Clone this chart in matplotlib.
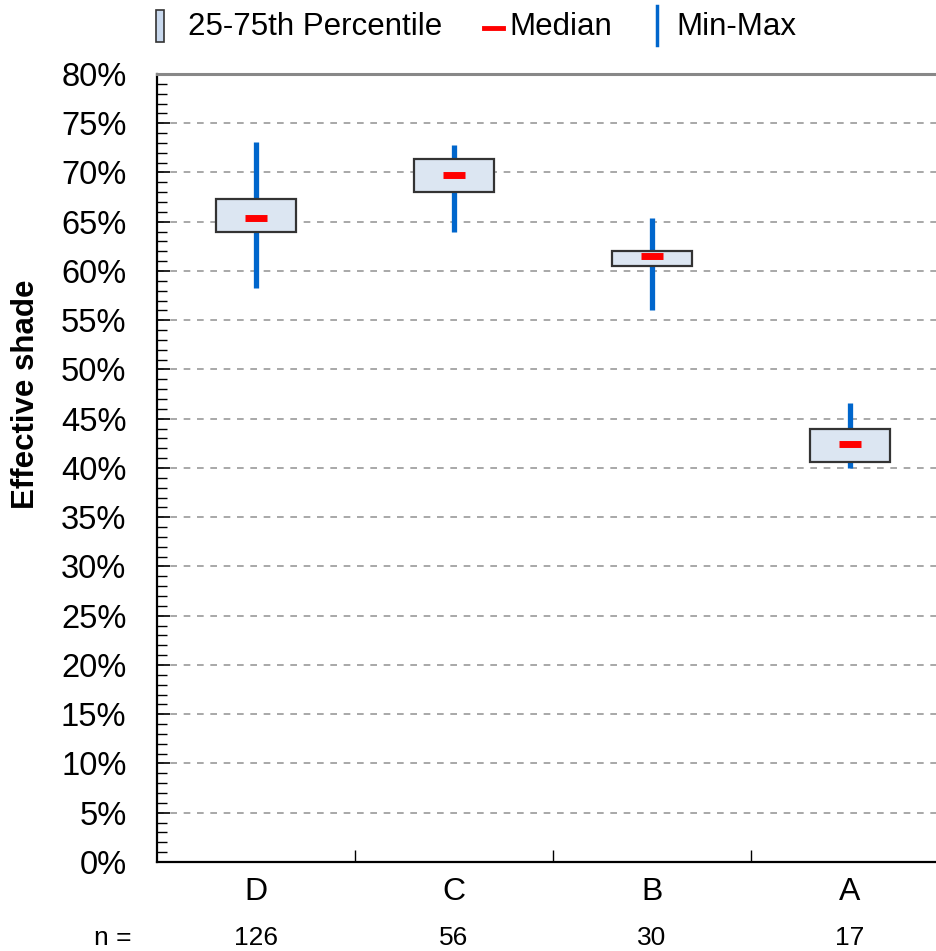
import numpy as np
import matplotlib.pyplot as plt
from matplotlib.patches import Rectangle
from matplotlib.lines import Line2D
from matplotlib.ticker import MultipleLocator, FuncFormatter
from matplotlib.transforms import blended_transform_factory

plt.rcParams['font.family'] = ['Liberation Sans', 'DejaVu Sans']

# Effective shade summary per class (fractions in %)
categories = ["D", "C", "B", "A"]
counts = [126, 56, 30, 17]
q_min = [58.3, 64.0, 56.0, 40.0]
q_max = [73.1, 72.8, 65.35, 46.6]
q25 = [64.0, 68.05, 60.5, 40.6]
q75 = [67.3, 71.4, 62.05, 44.0]
medians = [65.35, 69.75, 61.55, 42.4]

fig = plt.figure(figsize=(9.37, 9.51), dpi=100)
ax = fig.add_axes([0.1676, 0.0936, 0.8324, 0.8286])

x = np.arange(len(categories))
heights = np.array(q75) - np.array(q25)

# whiskers behind the boxes
ax.vlines(x, q_min, q_max, color="#0066cc", lw=3.8, zorder=2)
ax.bar(x, heights, bottom=q25, width=0.4, color="#dce6f2",
       edgecolor="#333333", linewidth=1.6, zorder=3)
ax.hlines(medians, x - 0.055, x + 0.055, color="#ff0000", lw=5, zorder=4)

ax.set_xlim(-0.5, -0.5 + 780 / 198)
ax.set_ylim(0, 80)
ax.yaxis.set_major_locator(MultipleLocator(5))
ax.yaxis.set_minor_locator(MultipleLocator(1))
ax.yaxis.set_major_formatter(FuncFormatter(lambda v, p: f"{v:.0f}%"))
ax.tick_params(axis="y", which="both", direction="in", labelsize=23.5, pad=22)
ax.tick_params(axis="y", which="major", length=9, width=1.2)
ax.tick_params(axis="y", which="minor", length=7, width=1.0)

ax.set_xticks(x)
ax.set_xticklabels(categories)
ax.set_xticks(x[:-1] + 0.5, minor=True)
ax.tick_params(axis="x", which="major", length=0, labelsize=23, pad=11)
ax.tick_params(axis="x", which="minor", direction="in", length=9, width=1.0)

ax.yaxis.grid(True, which="major", linestyle=(0, (4, 4)), color="#999999", lw=1.2)
ax.set_axisbelow(True)

for side in ("left", "bottom"):
    ax.spines[side].set_linewidth(1.6)
ax.spines["right"].set_visible(False)
ax.spines["top"].set_color("#888888")
ax.spines["top"].set_linewidth(2.2)

ax.set_ylabel("Effective shade", fontsize=22.5, fontweight="bold")
ax.yaxis.set_label_coords(-0.149, 0.593)

# sample size row under the categories
trans = blended_transform_factory(ax.transData, ax.transAxes)
ax.text(-0.5 - 44 / 198, -0.096, "n =", transform=trans, ha="center",
        va="center", fontsize=19)
for xi, n in zip(x, counts):
    ax.text(xi, -0.096, str(n), transform=trans, ha="center", va="center",
            fontsize=19)

# legend row at the top
W, H = 937, 951
fig.patches.append(Rectangle((156 / W, 1 - 42 / H), 8 / W, 32 / H,
                             transform=fig.transFigure, facecolor="#c9d9ee",
                             edgecolor="#333333", lw=1.2))
fig.text(188 / W, 1 - 27 / H, "25-75th Percentile", fontsize=22.5, va="center")
fig.lines.append(Line2D([484 / W, 503 / W], [1 - 28 / H, 1 - 28 / H],
                        transform=fig.transFigure, color="#ff0000", lw=3.5))
fig.text(509 / W, 1 - 27 / H, "Median", fontsize=22.5, va="center")
fig.lines.append(Line2D([657 / W, 657 / W], [1 - 6 / H, 1 - 45 / H],
                        transform=fig.transFigure, color="#0066cc", lw=2.5))
fig.text(676 / W, 1 - 27 / H, "Min-Max", fontsize=22.5, va="center")

fig.savefig("out.png", dpi=100)
